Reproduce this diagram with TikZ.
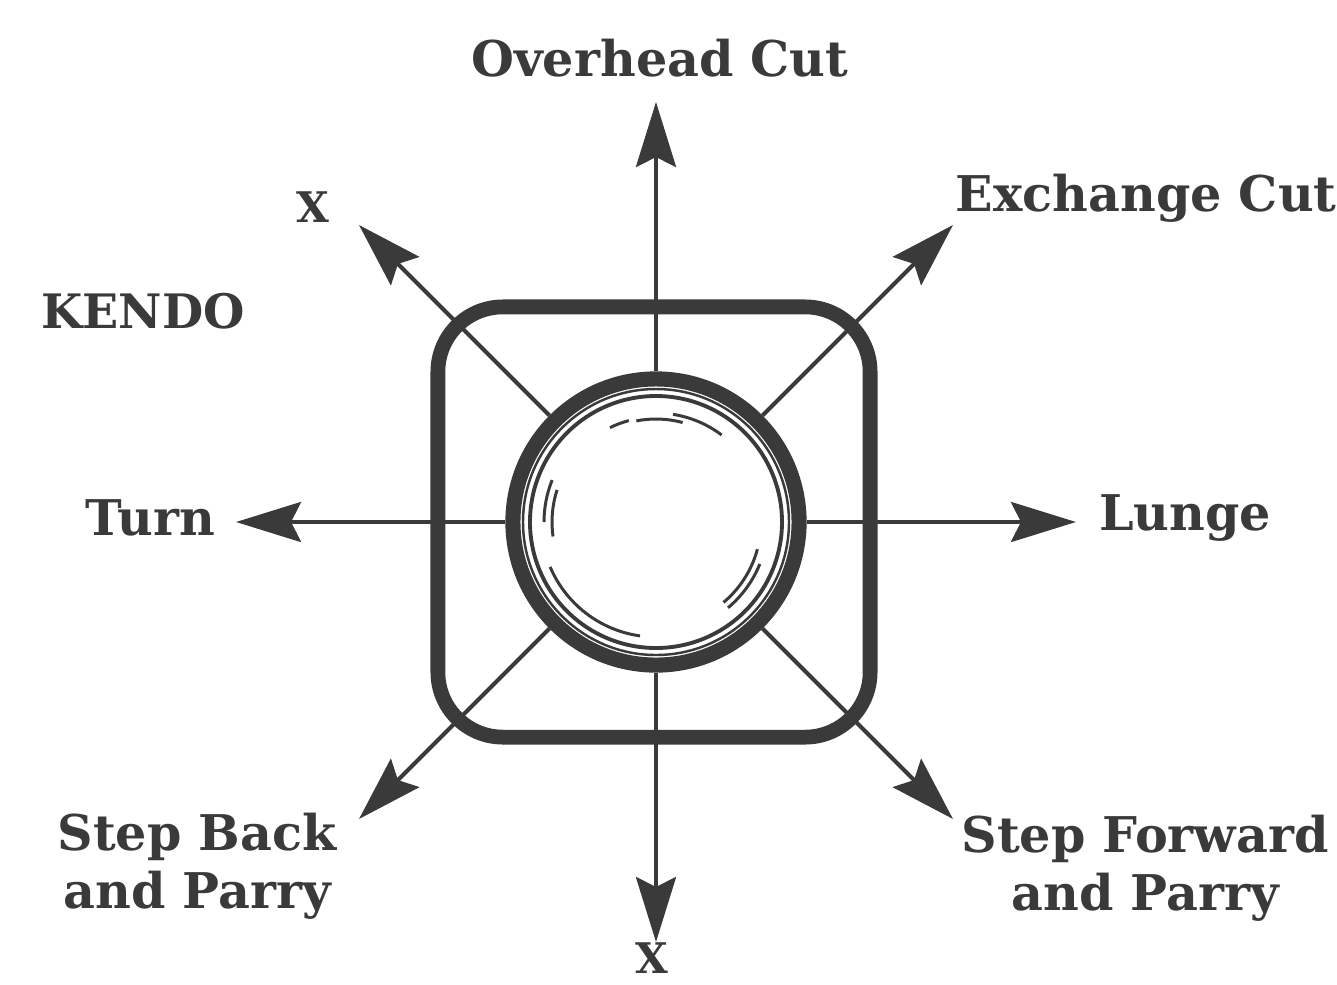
\documentclass[tikz,border=0pt]{standalone}
\usepackage{fontspec}
\setmainfont{DejaVu Serif}
\usepackage{xcolor}
\usetikzlibrary{positioning,arrows.meta,calc}
\definecolor{ink}{RGB}{58,58,58}

\begin{document}
\begin{tikzpicture}[x=0.01cm,y=0.01cm,
  lbl/.style={font=\bfseries\fontsize{14}{16.6}\selectfont,text=ink,align=center,inner sep=0pt},
  xlbl/.style={lbl,font=\bfseries\fontsize{12}{14}\selectfont},
  move/.style={draw=ink,line width=1.15pt,-{Stealth[length=6.5mm,width=4mm,inset=1mm]}},
  hubring/.style={circle,draw=ink,line width=4.3pt,minimum size=2.86cm,inner sep=0pt},
  frame/.style={draw=ink,line width=4.2pt,rounded corners=6.5mm,minimum width=4.32cm,minimum height=4.3cm,inner sep=0pt},
  glint/.style={draw=ink,line width=0.85pt}
]
  \useasboundingbox (-656,-462) rectangle (681,522);
  \node[frame] (box) at (-2,0) {};
  \node[hubring] (hub) at (0,0) {};
  \draw[ink,line width=0.7pt] (hub.center) circle (133);
  \draw[ink,line width=1.1pt] (hub.center) circle (126);
  % glints on the glass
  \foreach \r/\a/\b in {103/75/101, 105/105/116, 109/53/81,
                        112/158/180, 104/162/188, 115/203/262,
                        105/-50/-15, 112/-50/-22}{
    \draw[glint] (\a:\r) arc (\a:\b:\r);
  }
  % arrow ends
  \foreach \a/\nm in {0/E,45/NE,90/N,135/NW,180/W,225/SW,270/S,315/SE}{
    \coordinate (tip\nm) at (\a:420);
    \draw[move] (hub.\a) -- (tip\nm);
  }
  \node[lbl] (overhead) at (4,464) {Overhead Cut};
  \node[lbl,anchor=west] (exchange) at (299,324) {Exchange Cut};
  \node[xlbl] (xtop) at (-343,315) {X};
  \node[lbl,font=\fontsize{13.5}{16}\selectfont\bfseries] (kendo) at (-513,211) {KENDO};
  \node[lbl] (turn) at (-506,4) {Turn};
  \node[lbl] (lunge) at (529,4) {Lunge};
  \node[lbl] (stepback) at (-459,-344) {Step Back\\and Parry};
  \node[lbl] (stepfwd) at (489,-346) {Step Forward\\and Parry};
  \node[xlbl,anchor=south] (xbot) at (-4,-452) {X};
\end{tikzpicture}
\end{document}
